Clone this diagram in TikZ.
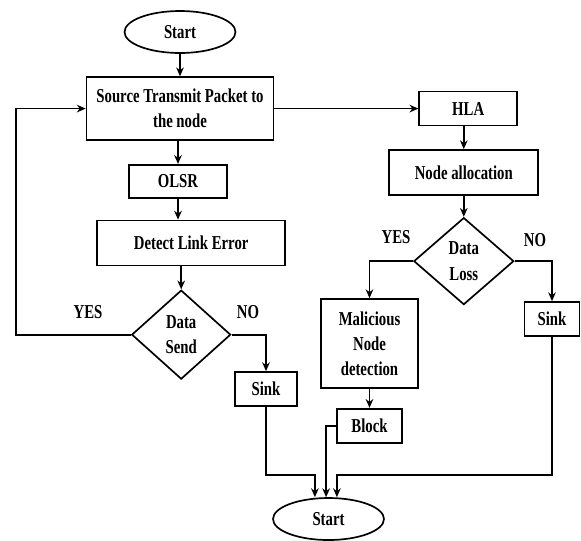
\documentclass[tikz,border=0pt]{standalone}
\usepackage{fontspec}
\setmainfont{Liberation Serif}[FakeStretch=0.75]
\usetikzlibrary{positioning,shapes.geometric,arrows.meta}
\tikzset{
	every node/.style={font=\bfseries\fontsize{14}{17.8}\selectfont},
	box/.style={draw=black,line width=1.2pt,minimum height=0.85cm,align=center},
	term/.style={ellipse,draw=black,line width=1.2pt,minimum width=2.775cm,minimum height=1.05cm},
	decision/.style={diamond,draw=black,line width=1.2pt,inner sep=0pt,align=center},
	lbl/.style={inner sep=1pt},
	arr/.style={line width=1.2pt,-{Stealth[length=2.2mm,width=1.9mm,inset=0.7mm]}},
	line/.style={line width=1.2pt}
}

\begin{document}
\begin{tikzpicture}
		\useasboundingbox (0,0) rectangle (14.525,-13.5);
		
		% left column
		\node[term] (start) at (4.5,-0.8) {Start};
		\node[box,minimum width=4.675cm,minimum height=1.575cm,below=0.56cm of start] (src) {Source Transmit Packet to\\the node};
		\node[box,minimum width=2.45cm,minimum height=0.825cm,below=0.575cm of src,shift={(-0.05,0)}] (olsr) {OLSR};
		\node[box,minimum width=4.7cm,minimum height=1.125cm,below=0.525cm of olsr,shift={(0.33,0)}] (detect) {Detect Link Error};
		\node[decision,minimum width=2.475cm,minimum height=2.225cm,below=0.575cm of detect,shift={(-0.25,0)}] (send) {Data\\Send};
		\node[box,minimum width=1.55cm] (sinkL) at (6.65,-9.725) {Sink};
		
		% right column
		\node[box,minimum width=2.45cm,right=3.6cm of src] (hla) {HLA};
		\node[box,minimum width=3.725cm,minimum height=1.125cm,below=0.567cm of hla,shift={(-0.11,0)}] (alloc) {Node allocation};
		\node[decision,minimum width=2.5cm,minimum height=2.175cm,below=0.525cm of alloc] (loss) {Data\\Loss};
		\node[box,minimum width=2.425cm,minimum height=2.225cm] (mal) at (9.2375,-8.5875) {Malicious\\Node\\detection};
		\node[box,minimum width=1.375cm] (sinkR) at (13.8,-7.975) {Sink};
		\node[box,minimum width=1.625cm,below=0.475cm of mal] (block) {Block};
		\node[term] (end) at (8.2125,-12.975) {Start};
		
		% branch labels
		\node[lbl] (yes1) at (2.2,-7.8) {YES};
		\node[lbl] (no1) at (6.2,-7.8) {NO};
		\node[lbl] (yes2) at (9.9,-5.93) {YES};
		\node[lbl] (no2) at (13.375,-6.0) {NO};
		
		% helper points
		\coordinate (loopx) at (0.4,0);
		\coordinate (mrg) at (0,-11.875);
		\coordinate[xshift=-0.34cm] (inL) at (end.north);
		\coordinate[xshift=-0.06cm] (inM) at (end.north);
		\coordinate[xshift=0.21cm] (inR) at (end.north);
		
		% connectors
		\draw[arr] (start.south)--(start.south |- src.north);
		\draw[arr] (olsr.north |- src.south)--(olsr.north);
		\draw[arr] (olsr.south)--(olsr.south |- detect.north);
		\draw[arr] (send.north |- detect.south)--(send.north);
		\draw[arr] (send.west)--(send.west -| loopx) |- (src.west);
		\draw[arr] (send.east) -| (sinkL.north);
		\draw[arr] (src.east)--(hla.west);
		\draw[arr] (alloc.north |- hla.south)--(alloc.north);
		\draw[arr] (alloc.south)--(loss.north);
		\draw[arr] (loss.west) -| (mal.north);
		\draw[arr] (loss.east) -| (sinkR.north);
		\draw[arr] (mal.south)--(block.north);
		\draw[arr] (sinkL.south) |- (inL |- mrg)--(inL);
		\draw[arr] (block.west) -| (inM);
		\draw[arr] (sinkR.south) |- (inR |- mrg)--(inR);
	\end{tikzpicture}
\end{document}
